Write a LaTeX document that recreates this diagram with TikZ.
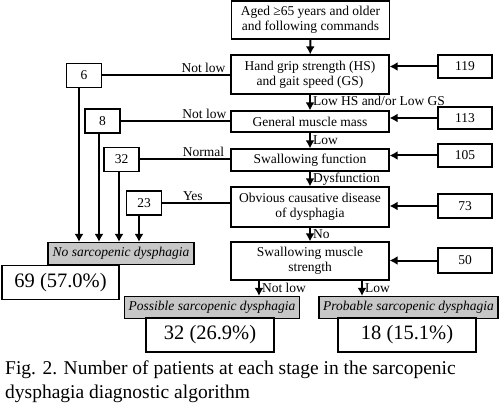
\documentclass[tikz,border=0pt]{standalone}
\usepackage{fontspec}
\setmainfont{Liberation Serif}
\usetikzlibrary{arrows.meta}

\begin{document}
\begin{tikzpicture}[x=1pt,y=-1pt]
\tikzstyle{every node}=[font=\fontsize{13.5}{15}\selectfont]
\tikzstyle{stage}=[draw, line width=1.2pt, align=center, minimum width=158pt, inner sep=1pt]
\tikzstyle{count}=[draw, line width=1.2pt, minimum width=54pt, inner sep=1pt]
\tikzstyle{excluded}=[draw, line width=1.2pt, minimum width=35pt, minimum height=24pt, inner sep=1pt]
\tikzstyle{outcome}=[draw, line width=1.2pt, fill=black!22, minimum height=22pt, inner sep=1pt, font=\fontsize{13.5}{15}\selectfont\itshape]
\tikzstyle{result}=[draw, line width=1.2pt, minimum height=34pt, inner sep=1pt, font=\fontsize{20.5}{22}\selectfont]
\tikzstyle{flow}=[line width=2pt, -{Latex[length=8pt, width=9pt]}]
\tikzstyle{link}=[line width=2pt]
\tikzstyle{branch}=[anchor=south west, inner sep=1.5pt]
\useasboundingbox (0,0) rectangle (500,406);

% main stages
\node[stage, minimum height=38pt] (start) at (310.5,20) {Aged ≥65 years and older\\and following commands};
\node[stage, minimum height=39pt] (hgs) at (310,74.5) {Hand grip strength (HS)\\and gait speed (GS)};
\node[stage, minimum height=21pt] (gmm) at (310,121.5) {General muscle mass};
\node[stage, minimum height=22pt] (swf) at (310,160) {Swallowing function};
\node[stage, minimum height=40pt] (ocd) at (310,207) {Obvious causative disease\\of dysphagia};
\node[stage, minimum height=38pt] (sms) at (310,261) {Swallowing muscle\\strength};

% patients entering each stage
\node[count, minimum height=23pt] (n119) at (465,66.5) {119};
\node[count, minimum height=22pt] (n113) at (465,118) {113};
\node[count, minimum height=23pt] (n105) at (465,155.5) {105};
\node[count, minimum height=24pt] (n73) at (465,206) {73};
\node[count, minimum height=25pt] (n50) at (465,260.5) {50};

% patients leaving
\node[excluded] (n6) at (84,75.5) {6};
\node[excluded] (n8) at (102.5,121) {8};
\node[excluded] (n32) at (121.5,159.5) {32};
\node[excluded] (n23) at (144,203) {23};

% outcomes
\node[outcome, minimum width=146pt] (nosd) at (121,253.5) {No sarcopenic dysphagia};
\node[result, minimum width=117pt] (res69) at (60.5,282.5) {69 (57.0\%)};
\node[outcome, minimum width=175pt] (possd) at (212,307.5) {Possible sarcopenic dysphagia};
\node[result, minimum width=128pt] (res32) at (210,335) {32 (26.9\%)};
\node[outcome, minimum width=179pt] (probsd) at (408.5,307.5) {Probable sarcopenic dysphagia};
\node[result, minimum width=138pt] (res18) at (407,335) {18 (15.1\%)};

\node[anchor=north west, align=left, inner sep=0pt, font=\fontsize{19.5}{23.5}\selectfont] (caption) at (5,361) {Fig. 2. Number of patients at each stage in the sarcopenic\\dysphagia diagnostic algorithm};

\path[flow]
(start) edge (hgs)
(hgs) edge node[right, inner sep=2pt, yshift=2pt] {Low HS and/or Low GS} (gmm)
(gmm) edge node[right, inner sep=2pt] {Low} (swf)
(swf) edge node[right, inner sep=2pt] {Dysfunction} (ocd)
(ocd) edge node[right, inner sep=2pt] {No} (sms)
([xshift=-51]sms.south) edge node[right, inner sep=2pt] {Not low} ([xshift=-51]sms.south |- possd.north)
([xshift=52]sms.south) edge node[right, inner sep=2pt] {Low} ([xshift=52]sms.south |- probsd.north)
(n119.west) edge (n119.west -| hgs.east)
(n113.west) edge (n113.west -| gmm.east)
(n105.west) edge (n105.west -| swf.east)
(n73.west) edge (n73.west -| ocd.east)
(n50.west) edge (n50.west -| sms.east)
([xshift=-5]n6.south) edge ([xshift=-5]n6.south |- nosd.north)
([xshift=-3.5]n8.south) edge ([xshift=-3.5]n8.south |- nosd.north)
([xshift=-2.5]n32.south) edge ([xshift=-2.5]n32.south |- nosd.north)
([xshift=-5]n23.south) edge ([xshift=-5]n23.south |- nosd.north);

\path[link]
(n6.east) edge node[branch, pos=0.6] {Not low} (n6.east -| hgs.west)
(n8.east) edge node[branch, pos=0.54] {Not low} (n8.east -| gmm.west)
(n32.east) edge node[branch, pos=0.45] {Normal} (n32.east -| swf.west)
(n23.east) edge node[branch, pos=0.27] {Yes} (n23.east -| ocd.west);
\end{tikzpicture}
\end{document}
